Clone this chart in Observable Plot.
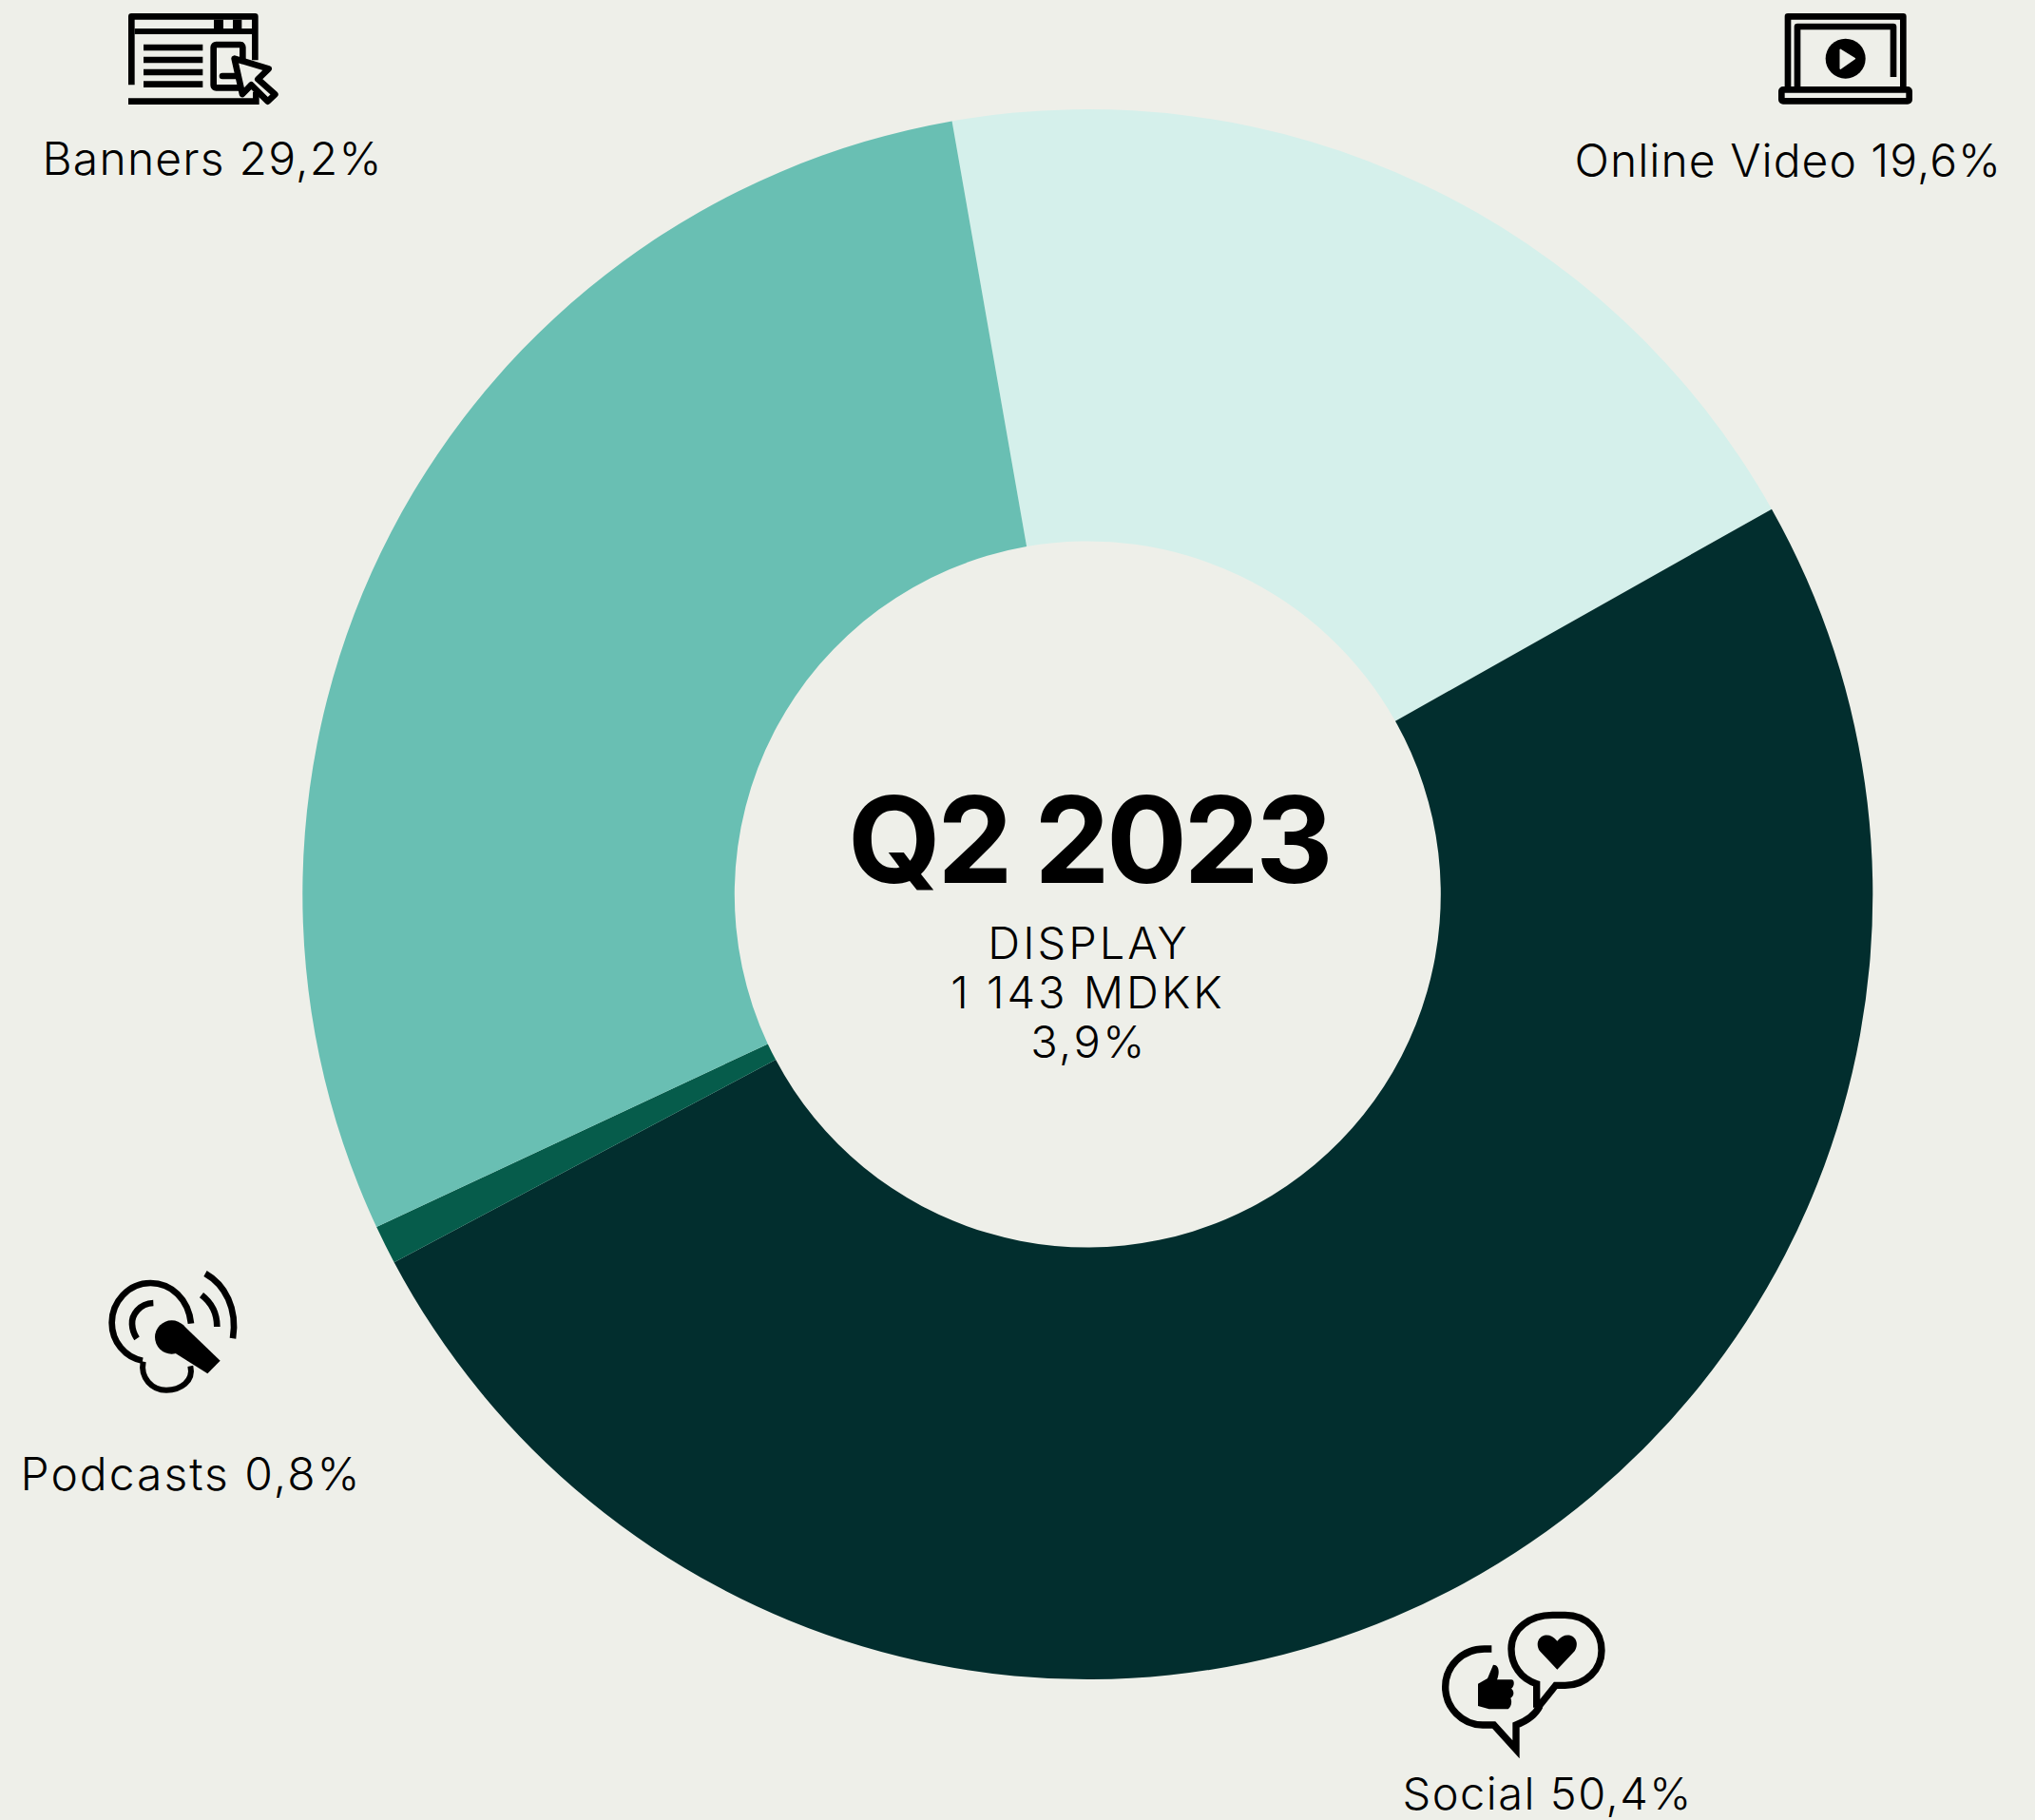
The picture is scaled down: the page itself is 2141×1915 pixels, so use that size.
<!DOCTYPE html>
<html>
<head>
<meta charset="utf-8">
<script src="https://cdn.jsdelivr.net/npm/d3@7"></script>
<script src="https://cdn.jsdelivr.net/npm/@observablehq/plot@0.6"></script>
<style>
html,body{margin:0;padding:0;background:#eeefe9;overflow:hidden}
svg{display:block}
</style>
</head>
<body>
<div id="chart"></div>
<script>
const segments = ["Online Video", "Social", "Podcasts", "Banners"];
const shares = [19.6, 50.4, 0.8, 29.2];
const segmentColors = ["#d5f0eb", "#022e2e", "#065c4b", "#69bfb3"];
const periodLabel = "Q2 2023";
const centerLines = ["DISPLAY", "1 143 MDKK", "3,9%"];

const W = 2141, H = 1915, BG = "#eeefe9";
const CX = 1144.3, CY = 941, R_OUT = 826, R_IN = 371.5;
const START = -9.95 * Math.PI / 180;

const pct = (v) => d3.format(".1f")(v).replace(".", ",") + "%";
const rows = segments.map((name, i) => ({name, share: shares[i]}));
const labelOf = (name) => `${name} ${pct(shares[segments.indexOf(name)])}`;

// text at pixel anchor, baseline-aligned
function label(text, x, y, size, weight, anchor, spacing) {
  return Plot.text([text], {
    text: d => d,
    frameAnchor: "top-left",
    lineAnchor: "bottom",
    textAnchor: anchor,
    dx: x, dy: y,
    fontFamily: "Inter, 'Noto Sans', sans-serif",
    fontSize: size, fontWeight: weight, fill: "#000",
    render(index, scales, values, dimensions, context, next) {
      const g = next(index, scales, values, dimensions, context);
      g.setAttribute("letter-spacing", spacing);
      return g;
    }
  });
}

// icons, drawn in 3x units relative to their corner
function icon(x0, y0, markup) {
  return () => {
    const g = document.createElementNS("http://www.w3.org/2000/svg", "g");
    g.setAttribute("transform", `translate(${x0},${y0}) scale(${1/3})`);
    g.setAttribute("fill", "none");
    g.setAttribute("stroke", "#000");
    g.setAttribute("stroke-width", "20");
    g.innerHTML = markup;
    return g;
  };
}
const iconBanners = `
<path d="M85 268V52H475V190" stroke-linejoin="round"/>
<path d="M75 320H478V290"/>
<path d="M95 99H470" stroke-width="18"/>
<rect x="345" y="62" width="30" height="30" fill="#000" stroke="none"/>
<rect x="405" y="62" width="28" height="30" fill="#000" stroke="none"/>
<path d="M123 150H310M123 189H310M123 228H310M123 266H310"/>
<rect x="344" y="141" width="92" height="136" rx="8"/>
<path d="M372 240H425" stroke-linecap="round"/>
<path d="M410 185L518 217L484 250L538 298L515 320L463 268L435 297Z" fill="${BG}" stroke-linejoin="round"/>`;
const iconVideo = `
<path d="M93 275V52H457V275" stroke-linejoin="round"/>
<path d="M123 275V84H426V243" stroke-linejoin="round"/>
<rect x="73" y="283" width="403" height="36" rx="5"/>
<circle cx="275" cy="185" r="63" fill="#000" stroke="none"/>
<path d="M259 157L304 185L259 216Z" fill="${BG}" stroke="${BG}" stroke-width="5" stroke-linejoin="round"/>`;
const iconPodcast = `
<path d="M333 218C325 140 270 90 205 90C135 90 83 150 83 215C83 275 125 325 180 335"/>
<path d="M182 338C172 390 210 428 255 428C300 428 342 400 331 352" stroke-width="18"/>
<path d="M214 153C170 155 145 190 147 220C148 240 155 255 162 265"/>
<path d="M366 128C395 150 415 185 415 228"/>
<path d="M378 60C440 95 480 170 465 265"/>
<circle cx="272" cy="261" r="53" fill="#000" stroke="none"/>
<path d="M305 220L425 335L385 376L265 300Z" fill="#000" stroke="none"/>`;
const iconSocial = `
<path d="M350 350V275C300 260 270 215 270 165C270 100 330 58 400 58H440C510 58 555 110 555 170C555 230 505 280 440 280H410L358 345" stroke-width="22"/>
<path d="M208 165H185C115 165 62 220 62 285C62 350 115 405 180 405H215L285 482V405C325 390 350 365 360 345" stroke-width="22"/>
<path d="M415 230L360 172C335 130 385 100 415 140C445 100 495 130 470 172Z" fill="#000" stroke="none"/>
<path d="M165 275L195 258L213 215C235 215 232 245 225 262H270C282 262 280 285 270 290C282 300 277 315 268 320C274 335 268 350 260 355H200L165 345Z" fill="#000" stroke="none"/>`;

const chart = Plot.plot({
  width: W, height: H,
  margin: 0,
  style: {background: "transparent"},
  x: {axis: null, domain: [0, 100], range: [START, START + 2 * Math.PI]},
  y: {axis: null},
  color: {domain: segments, range: segmentColors},
  marks: [
    Plot.barX(rows, Plot.stackX({
      x: "share",
      fill: "name",
      render(index, scales, values) {
        const arc = d3.arc().innerRadius(R_IN).outerRadius(R_OUT);
        const g = document.createElementNS("http://www.w3.org/2000/svg", "g");
        g.setAttribute("transform", `translate(${CX},${CY})`);
        for (const i of index) {
          const p = document.createElementNS("http://www.w3.org/2000/svg", "path");
          p.setAttribute("d", arc({startAngle: values.x1[i], endAngle: values.x2[i]}));
          p.setAttribute("fill", values.fill[i]);
          g.appendChild(p);
        }
        return g;
      }
    })),
    label(periodLabel, 1145, 928, 126, 700, "middle", -3.6),
    label(centerLines[0], 1145, 1008, 47, 300, "middle", 3),
    label(centerLines[1], 1144, 1060, 47, 300, "middle", 3),
    label(centerLines[2], 1145, 1112, 47, 300, "middle", 2.5),
    label(labelOf("Banners"), 44, 183, 48, 300, "start", 1.2),
    label(labelOf("Online Video"), 1656, 185, 48, 300, "start", 1),
    label(labelOf("Podcasts"), 21, 1567, 48, 300, "start", 2),
    label(labelOf("Social"), 1475, 1903, 47, 300, "start", 1.5),
    icon(110, 0, iconBanners),
    icon(1850, 0, iconVideo),
    icon(90, 1320, iconPodcast),
    icon(1500, 1680, iconSocial)
  ]
});
document.getElementById("chart").appendChild(chart);
</script>
</body>
</html>
